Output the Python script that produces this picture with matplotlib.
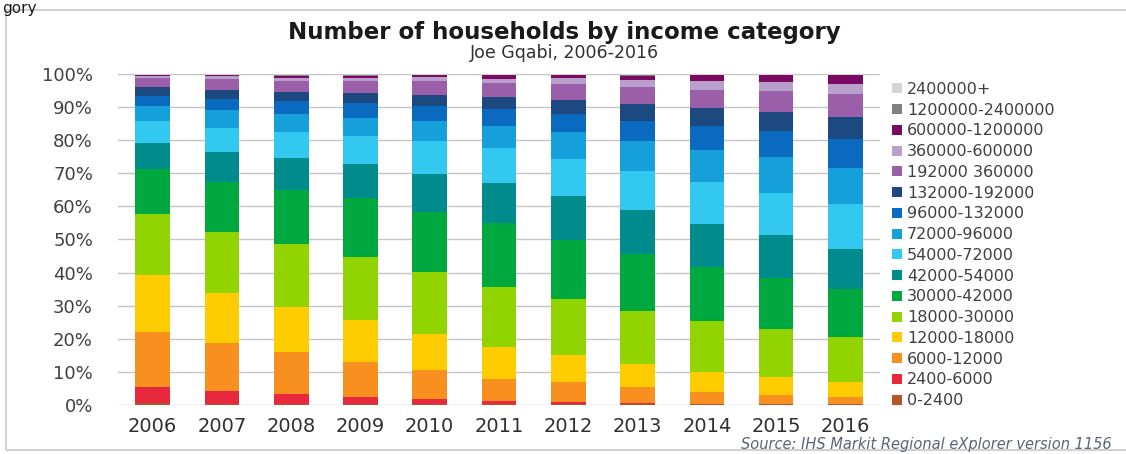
import numpy as np
import matplotlib
import matplotlib.pyplot as plt
from matplotlib.patches import Rectangle

matplotlib.use('agg')

years = ['2006', '2007', '2008', '2009', '2010', '2011', '2012', '2013', '2014', '2015', '2016']

categories = ['0-2400', '2400-6000', '6000-12000', '12000-18000', '18000-30000',
              '30000-42000', '42000-54000', '54000-72000', '72000-96000',
              '96000-132000', '132000-192000', '192000 360000', '360000-600000',
              '600000-1200000', '1200000-2400000', '2400000+']

# share of households (%) per category, one list per income band
inc_0_2400 = [0.5, 0.45, 0.4, 0.4, 0.35, 0.35, 0.3, 0.3, 0.3, 0.3, 0.3]
inc_2400_6000 = [5.0, 3.9, 2.9, 1.9, 1.5, 1.0, 0.6, 0.3, 0.15, 0.1, 0.1]
inc_6000_12000 = [16.6, 14.3, 12.6, 10.6, 8.6, 6.4, 5.9, 4.7, 3.55, 2.6, 1.9]
inc_12000_18000 = [17.1, 15.3, 13.8, 12.8, 11.1, 9.7, 8.4, 7.0, 6.0, 5.5, 4.7]
inc_18000_30000 = [18.4, 18.4, 18.9, 18.9, 18.5, 18.3, 16.8, 16.1, 15.4, 14.6, 13.4]
inc_30000_42000 = [13.8, 15.1, 16.3, 17.8, 18.4, 19.3, 17.9, 17.3, 16.3, 15.4, 14.5]
inc_42000_54000 = [7.8, 9.1, 9.6, 10.4, 11.4, 12.1, 13.3, 13.1, 13.1, 12.8, 12.2]
inc_54000_72000 = [6.5, 7.0, 8.1, 8.5, 9.8, 10.4, 11.1, 11.9, 12.6, 12.8, 13.6]
inc_72000_96000 = [4.5, 5.5, 5.3, 5.3, 6.0, 6.7, 8.1, 9.1, 9.6, 10.7, 10.8]
inc_96000_132000 = [3.3, 3.5, 4.0, 4.5, 4.7, 5.3, 5.6, 6.0, 7.3, 8.1, 8.8]
inc_132000_192000 = [2.5, 2.7, 2.7, 3.3, 3.3, 3.5, 4.0, 5.0, 5.3, 5.7, 6.8]
inc_192000_360000 = [2.8, 3.3, 3.3, 3.5, 4.3, 4.2, 5.0, 5.2, 5.7, 6.3, 6.8]
inc_360000_600000 = [0.7, 0.7, 1.0, 1.0, 1.0, 1.3, 1.7, 2.3, 2.6, 2.7, 3.2]
inc_600000_1200000 = [0.2, 0.4, 0.6, 0.6, 0.6, 1.0, 0.9, 1.2, 1.7, 2.0, 2.5]
inc_1200000_2400000 = [0.1, 0.1, 0.2, 0.2, 0.2, 0.2, 0.2, 0.2, 0.1, 0.2, 0.2]
inc_2400000_plus = [0.2, 0.2, 0.3, 0.3, 0.3, 0.25, 0.2, 0.3, 0.3, 0.2, 0.2]

series = [inc_0_2400, inc_2400_6000, inc_6000_12000, inc_12000_18000, inc_18000_30000,
          inc_30000_42000, inc_42000_54000, inc_54000_72000, inc_72000_96000,
          inc_96000_132000, inc_132000_192000, inc_192000_360000, inc_360000_600000,
          inc_600000_1200000, inc_1200000_2400000, inc_2400000_plus]

colors = ['#b5562a', '#e8283c', '#f7901e', '#ffcc00', '#92d400', '#00a940',
          '#008c8c', '#33c8f0', '#15a0dc', '#0a6abf', '#1c4a80', '#9b5ea8',
          '#b9a0cc', '#7a0a64', '#808080', '#d4d4d4']

W, H = 1126, 454
fig = plt.figure(figsize=[W/100, H/100], dpi=100)
ax = fig.add_axes([118/W, 49/H, 762/W, 331/H])

x = np.arange(len(years))
bottom = np.zeros(len(years))
for vals, col, lab in zip(series, colors, categories):
    ax.bar(x, vals, 0.5, bottom=bottom, color=col, label=lab, zorder=2)
    bottom += np.array(vals)

ax.set_xlim(-0.5, len(years)-0.5)
ax.set_ylim(0, 100)
ax.set_yticks(np.arange(0, 101, 10))
ax.set_yticklabels([f"{v}%" for v in range(0, 101, 10)])
ax.set_xticks(x)
ax.set_xticklabels(years)
ax.yaxis.grid(True, color='#c4c4c4', linewidth=1)
ax.set_axisbelow(True)
for s in ax.spines.values():
    s.set_visible(False)
ax.tick_params(axis='y', length=0, pad=18, labelsize=13, labelcolor='#404040')
ax.tick_params(axis='x', length=0, pad=9, labelsize=14, labelcolor='#303030')

handles, labels = ax.get_legend_handles_labels()
leg = ax.legend(handles[::-1], labels[::-1], loc='upper left',
                bbox_to_anchor=(884/W, 1-74/H), bbox_transform=fig.transFigure,
                frameon=False, fontsize=11.5, labelspacing=0.36, borderpad=0,
                handlelength=0.6, handleheight=0.6, handletextpad=0.35)
for t in leg.get_texts():
    t.set_color('#404040')

fig.text(564/W, 1-33/H, "Number of households by income category",
         ha='center', va='center', fontsize=16.5, fontweight='bold', color='#1a1a1a')
fig.text(564/W, 1-53/H, "Joe Gqabi, 2006-2016",
         ha='center', va='center', fontsize=12.5, color='#303030')
fig.text(1112/W, 1-445/H, "Source: IHS Markit Regional eXplorer version 1156",
         ha='right', va='center', fontsize=10.5, style='italic', color='#5a6478')
# leftover of the page text above the chart
fig.text(2/W, 1-1/H, "gory", ha='left', va='top', fontsize=11, color='#1a1a1a')

fig.patches.append(Rectangle((6/W, 4/H), 1.0, (444-4)/H, transform=fig.transFigure,
                             fill=False, edgecolor='#c8c8c8', linewidth=1.2))

plt.savefig('out.png', dpi=100)
plt.close()
